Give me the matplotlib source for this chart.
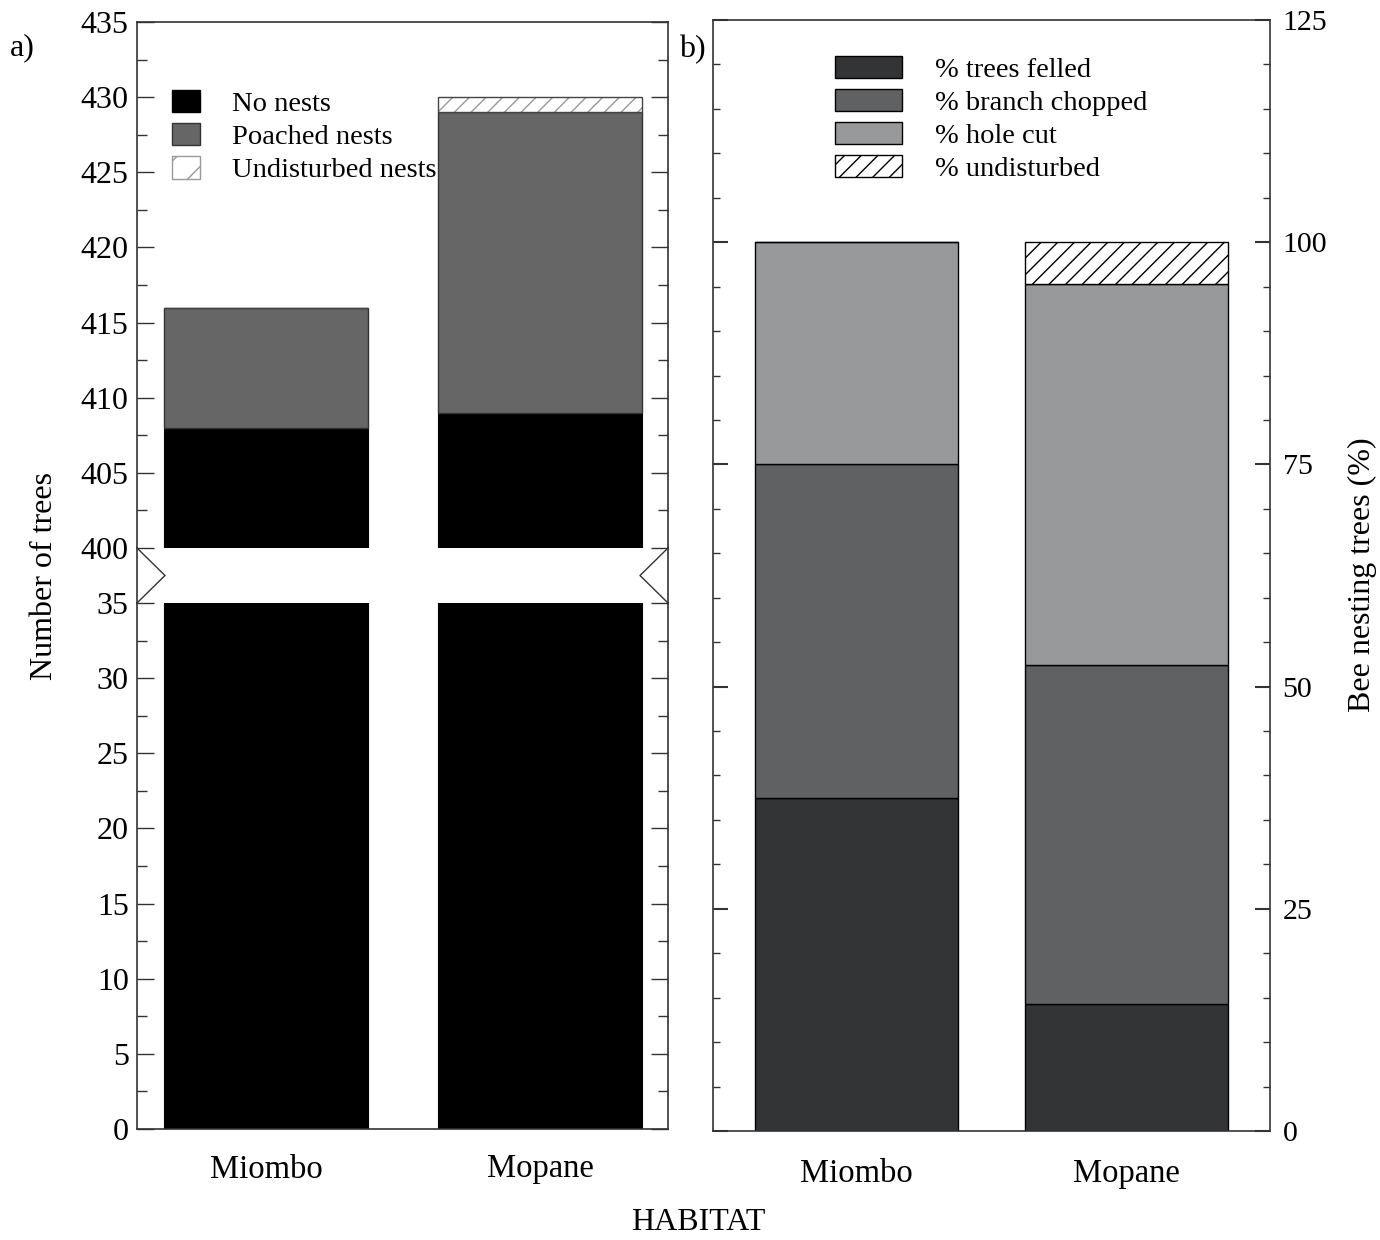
import matplotlib
matplotlib.use("Agg")
import matplotlib.pyplot as plt
from matplotlib.ticker import MultipleLocator
from matplotlib.lines import Line2D
from matplotlib.patches import Patch
import numpy as np

plt.rcParams['font.family'] = ['Liberation Serif', 'DejaVu Serif']
plt.rcParams['hatch.linewidth'] = 1.0

# ---- data ----
habitats = ["Miombo", "Mopane"]
no_nests = [408, 409]
poached_nests = [8, 20]
undisturbed_nests = [0, 1]

pct_felled = [37.5, 14.29]
pct_branch = [37.5, 38.10]
pct_hole = [25.0, 42.86]
pct_undisturbed = [0.0, 4.76]

W, H = 1380, 1240
fig = plt.figure(figsize=(13.8, 12.4), dpi=100)

def fx(px):
    return px / W

def fy(py):
    return 1 - py / H

FS_TICK_L = 23
FS_TICK_R = 21.5
FS_CAT = 23.5
FS_LAB = 23
FS_LEG = 20.5
x = np.arange(len(habitats))

# ---- left panel (broken axis) ----
axL_l, axL_r = 137, 668
top_y0, top_y1 = 22, 548
bot_y0, bot_y1 = 603, 1129
ax_top = fig.add_axes([fx(axL_l), fy(top_y1), fx(axL_r - axL_l), (top_y1 - top_y0) / H])
ax_bot = fig.add_axes([fx(axL_l), fy(bot_y1), fx(axL_r - axL_l), (bot_y1 - bot_y0) / H])

bw = 0.745
nn = np.array(no_nests)
pn = np.array(poached_nests)
un = np.array(undisturbed_nests)
for ax in (ax_top, ax_bot):
    ax.bar(x, nn, width=bw, color='black', edgecolor='black', linewidth=0.8)
    ax.bar(x, pn, bottom=nn, width=bw, color='#666666', edgecolor='#333333', linewidth=1.0)
    ax.bar(x, un, bottom=nn + pn, width=bw, color='white', edgecolor='#999999',
           hatch='//', linewidth=0)
    ax.bar(x, un, bottom=nn + pn, width=bw, fill=False, edgecolor='#444444', linewidth=1.0)
    ax.set_xlim(-0.471, 1.467)
    ax.yaxis.set_major_locator(MultipleLocator(5))
    ax.yaxis.set_minor_locator(MultipleLocator(2.5))
    ax.tick_params(axis='y', which='major', direction='in', length=12, width=1.0,
                   labelsize=FS_TICK_L, pad=6, left=True, right=True, color='#333333')
    ax.tick_params(axis='y', which='minor', direction='in', length=7, width=1.0,
                   left=True, right=True, color='#333333')
    for s in ax.spines.values():
        s.set_linewidth(1.2)
        s.set_color('#333333')

ax_top.set_ylim(400, 435)
ax_bot.set_ylim(0, 35)
ax_top.spines['bottom'].set_visible(False)
ax_bot.spines['top'].set_visible(False)
ax_top.tick_params(axis='x', which='both', bottom=False, labelbottom=False)
ax_bot.set_xticks(x)
ax_bot.set_xticklabels(habitats)
ax_bot.tick_params(axis='x', which='both', length=0, labelsize=FS_CAT, pad=18)

# break marks
for (xs, xt) in [(axL_l, axL_l + 28), (axL_r, axL_r - 28)]:
    fig.add_artist(Line2D([fx(xs), fx(xt), fx(xs)], [fy(top_y1), fy((top_y1 + bot_y0) / 2), fy(bot_y0)],
                          transform=fig.transFigure, color='#333333', linewidth=1.0))
    fig.add_artist(Line2D([fx(xs), fx(xs)], [fy(top_y1), fy(bot_y0)],
                          transform=fig.transFigure, color='#333333', linewidth=1.2))

legL = [Patch(facecolor='black', edgecolor='black', label='No nests'),
        Patch(facecolor='#666666', edgecolor='#333333', label='Poached nests'),
        Patch(facecolor='white', edgecolor='#999999', hatch='/', label='Undisturbed nests')]
fig.legend(handles=legL, loc='upper left', bbox_to_anchor=(fx(172), fy(90)),
           bbox_transform=fig.transFigure, frameon=False, fontsize=FS_LEG,
           handlelength=0.98, handleheight=0.82, handletextpad=1.12,
           labelspacing=0.22, borderpad=0, borderaxespad=0)

# ---- right panel ----
axR_l, axR_r = 713, 1270
axR_t, axR_b = 20, 1131
axR = fig.add_axes([fx(axR_l), fy(axR_b), fx(axR_r - axR_l), (axR_b - axR_t) / H])
f = np.array(pct_felled)
b = np.array(pct_branch)
h = np.array(pct_hole)
u = np.array(pct_undisturbed)
bw2 = 0.752
axR.bar(x, f, width=bw2, color='#333436', edgecolor='black', linewidth=1.0)
axR.bar(x, b, bottom=f, width=bw2, color='#606163', edgecolor='black', linewidth=1.0)
axR.bar(x, h, bottom=f + b, width=bw2, color='#97999b', edgecolor='black', linewidth=1.0)
axR.bar(x, u, bottom=f + b + h, width=bw2, color='white', edgecolor='black',
        hatch='//', linewidth=1.0)
axR.set_xlim(-0.531, 1.531)
axR.set_ylim(0, 125)
axR.yaxis.set_major_locator(MultipleLocator(25))
axR.yaxis.set_minor_locator(MultipleLocator(5))
axR.yaxis.tick_right()
axR.tick_params(axis='y', which='major', direction='in', length=11, width=1.5,
                labelsize=FS_TICK_R, pad=9, left=True, right=True, labelleft=False,
                labelright=True, color='#333333')
axR.tick_params(axis='y', which='minor', direction='in', length=5, width=1.0,
                left=True, right=True, color='#333333')
axR.set_xticks(x)
axR.set_xticklabels(habitats)
axR.tick_params(axis='x', which='both', length=0, labelsize=FS_CAT, pad=20)
for s in axR.spines.values():
    s.set_linewidth(1.2)
    s.set_color('#333333')

legR = [Patch(facecolor='#333436', edgecolor='black', label='% trees felled'),
        Patch(facecolor='#606163', edgecolor='black', label='% branch chopped'),
        Patch(facecolor='#97999b', edgecolor='black', label='% hole cut'),
        Patch(facecolor='white', edgecolor='black', hatch='//', label='% undisturbed')]
fig.legend(handles=legR, loc='upper left', bbox_to_anchor=(fx(835), fy(56)),
           bbox_transform=fig.transFigure, frameon=False, fontsize=FS_LEG,
           handlelength=2.35, handleheight=0.8, handletextpad=1.16,
           labelspacing=0.22, borderpad=0, borderaxespad=0)

# ---- texts ----
fig.text(fx(45), fy(576), 'Number of trees', rotation=90, ha='center', va='center', fontsize=FS_LAB)
fig.text(fx(1362), fy(575), 'Bee nesting trees (%)', rotation=90, ha='center', va='center', fontsize=FS_LAB)
fig.text(fx(698), fy(1222), 'HABITAT', ha='center', va='center', fontsize=FS_LAB)
fig.text(fx(22), fy(48), 'a)', ha='center', va='center', fontsize=FS_LAB)
fig.text(fx(692), fy(50), 'b)', ha='center', va='center', fontsize=FS_LAB)

fig.savefig('out.png', dpi=100)
